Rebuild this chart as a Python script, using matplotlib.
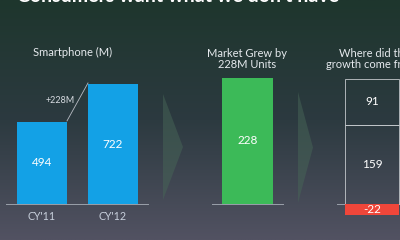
import numpy as np
import matplotlib
matplotlib.use("Agg")
import matplotlib.pyplot as plt
from matplotlib.patches import Polygon

plt.rcParams['font.family'] = ['Lato', 'DejaVu Sans']

# ---- data ----
years = ["CY'11", "CY'12"]
units = [494, 722]
growth_label = "+228M"
market_growth = [228]
source_labels = ["159", "91", "-22"]
source_values = [159, 91, -22]

W, H = 400, 240
fig = plt.figure(figsize=(W / 100, H / 100), dpi=100)

# background gradient (pixel coordinates)
bg = fig.add_axes([0, 0, 1, 1])
bg.set_xlim(0, W)
bg.set_ylim(H, 0)
bg.axis('off')
top = np.array([30, 54, 45]) / 255
mid = np.array([44, 58, 64]) / 255
bot = np.array([82, 82, 98]) / 255
t = np.linspace(0, 1, 200)[:, None]
grad = np.where(t < 0.5, top + (mid - top) * (t / 0.5), mid + (bot - mid) * ((t - 0.5) / 0.5))
bg.imshow(grad[:, None, :].repeat(2, axis=1), extent=[0, W, H, 0], aspect='auto', zorder=0)

# chevrons
for xl, xr, yt, yb in [(163, 183, 94, 200), (298, 313, 92, 203)]:
    bg.add_patch(Polygon([[xl, yt], [xr, (yt + yb) / 2], [xl, yb]], closed=True,
                         facecolor=(0.28, 0.40, 0.34), alpha=0.5, edgecolor='none', zorder=1))

txtc = '#e6eaee'
title = fig.text(17 / W, 1 - 1.5 / H, "Consumers want what we don't have", color='white',
                 fontsize=16, ha='left', va='baseline', fontweight='bold')
fig.canvas.draw()
wpx = title.get_window_extent().width
title.set_fontsize(16 * 321 / wpx)

fig.text(73 / W, 1 - 52 / H, "Smartphone (M)", color=txtc, fontsize=8, ha='center', va='center')
fig.text(247 / W, 1 - 59 / H, "Market Grew by\n228M Units", color=txtc, fontsize=8,
         ha='center', va='center', linespacing=1.05)
fig.text(374 / W, 1 - 59 / H, "Where did the\ngrowth come from?", color=txtc, fontsize=8,
         ha='center', va='center', linespacing=1.05)

# ---- panel 1 ----
s1 = 120 / 722  # px per unit
ax1 = fig.add_axes([6 / W, (H - 204) / H, 142 / W, 144 / H])
ax1.patch.set_alpha(0)
x = np.arange(len(years))
ax1.bar(x, units, width=50 / 71, color='#13a1e6', zorder=2)
ax1.set_xlim(-36 / 71, 106 / 71)
ax1.set_ylim(0, 144 / s1)
for xi, v in zip(x, units):
    ax1.text(xi, v / 2, str(v), color='white', fontsize=8.5, ha='center', va='center')
ax1.plot([x[0] + 25 / 71, x[1] - 25 / 71], [units[0] + 6, units[1] + 6], color='#b8bcc4', lw=0.6)
ax1.text(0.254, 620, growth_label, color='#d8dce2',
         fontsize=6.5, ha='center', va='center')
for sp in ['top', 'right', 'left']:
    ax1.spines[sp].set_visible(False)
ax1.spines['bottom'].set_color('#9aa0aa')
ax1.spines['bottom'].set_linewidth(0.7)
ax1.set_yticks([])
ax1.set_xticks(x)
ax1.set_xticklabels(years, color='#c8d0dc', fontsize=7.7)
ax1.tick_params(axis='x', length=0, pad=5)

# ---- panel 2 ----
ax2 = fig.add_axes([212 / W, (H - 204) / H, 71 / W, 126 / H])
ax2.patch.set_alpha(0)
ax2.bar([0], market_growth, width=51 / 71, color='#3cba58', zorder=2)
ax2.set_xlim(-0.5, 0.5)
ax2.set_ylim(0, 228)
ax2.text(0, market_growth[0] / 2, str(market_growth[0]), color='white', fontsize=8.5,
         ha='center', va='center')
for sp in ['top', 'right', 'left']:
    ax2.spines[sp].set_visible(False)
ax2.spines['bottom'].set_color('#9aa0aa')
ax2.spines['bottom'].set_linewidth(0.7)
ax2.set_xticks([])
ax2.set_yticks([])

# ---- panel 3 ----
s3 = 0.5
ax3 = fig.add_axes([337 / W, (H - 220) / H, 73 / W, 150 / H])
ax3.patch.set_alpha(0)
bottoms = [0, source_values[0], 0]
for val, b, lab in zip(source_values, bottoms, source_labels):
    if val < 0:
        ax3.bar([0], [val], bottom=b, width=1.0, color='#f0463a', edgecolor='none', zorder=2)
    else:
        ax3.bar([0], [val], bottom=b, width=1.0, facecolor='none', edgecolor='#c4c8cc',
                linewidth=0.6, zorder=2)
    ax3.text(0, b + val / 2, lab, color='white', fontsize=8.5, ha='center', va='center', zorder=3)
ax3.axhline(0, color='#9aa0aa', lw=0.7, zorder=1)
ax3.set_xlim(-35 / 54, 38 / 54)
ax3.set_ylim(-16 / s3, 134 / s3)
ax3.axis('off')

fig.savefig('out.png', dpi=100)
